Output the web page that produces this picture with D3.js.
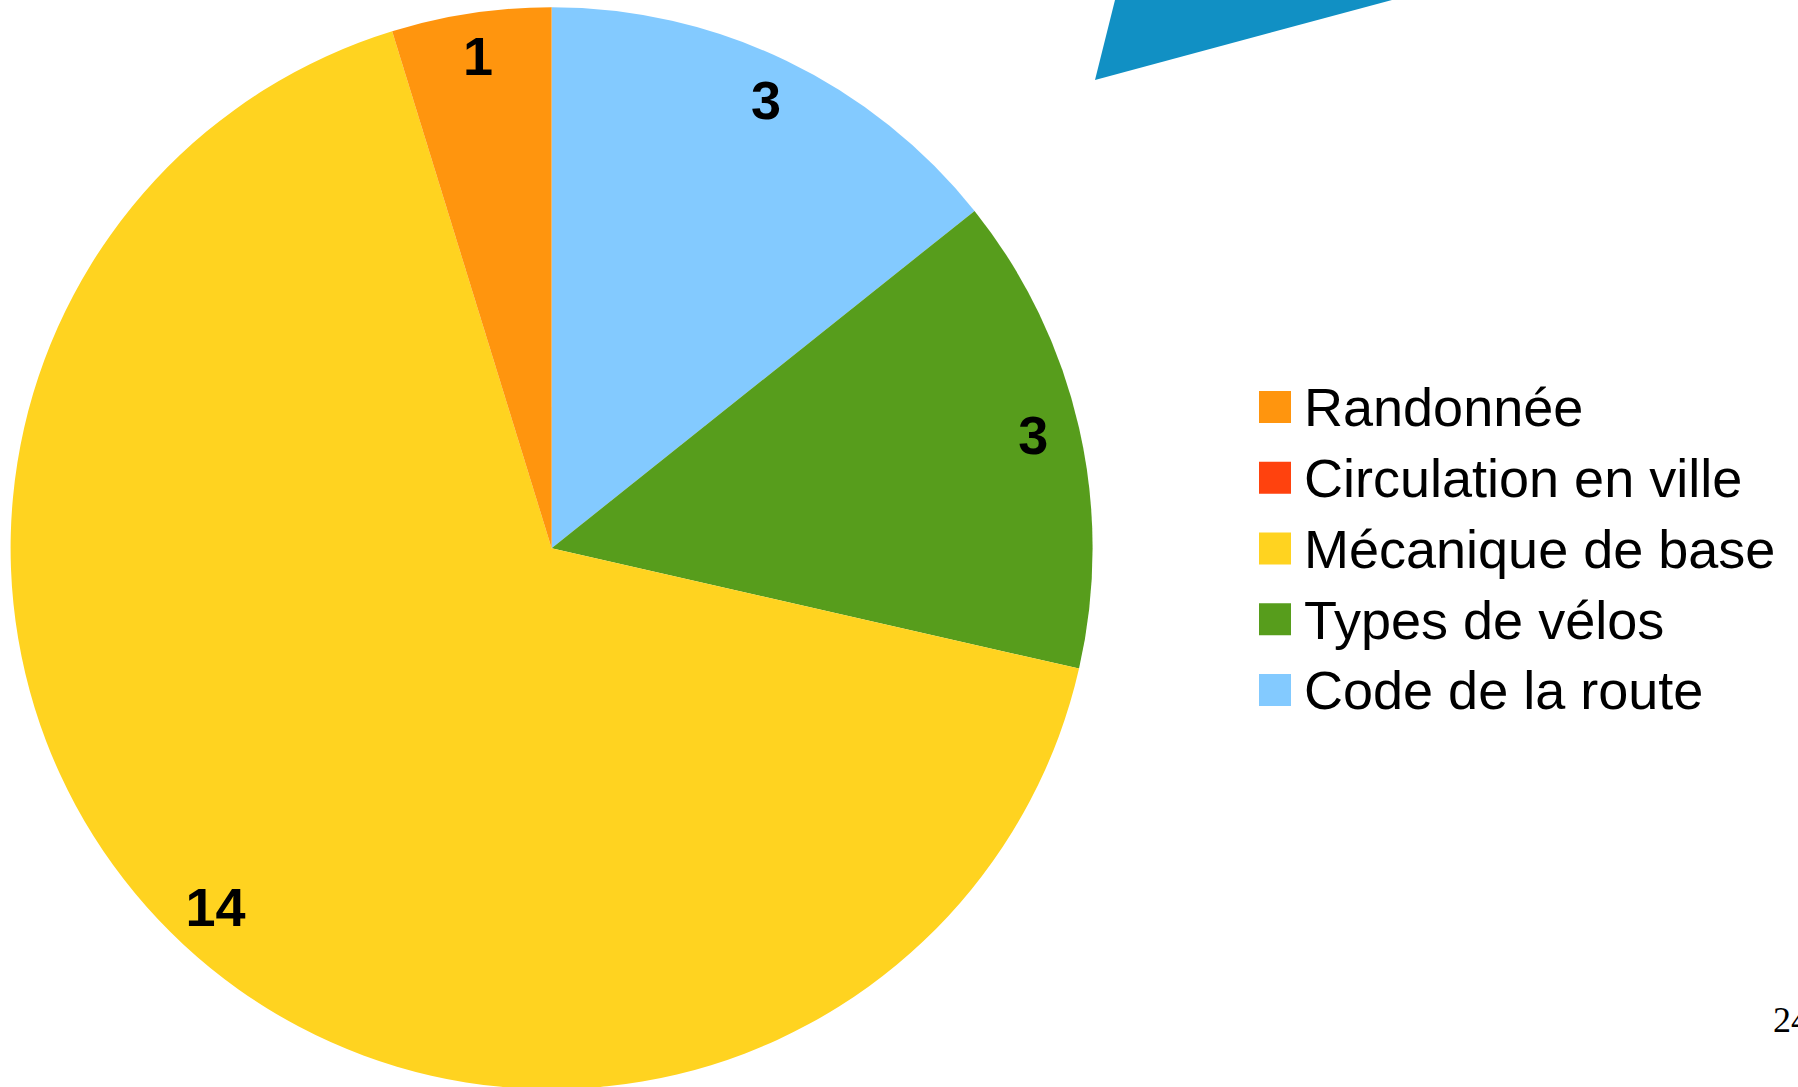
<!DOCTYPE html>
<html>
<head>
<meta charset="utf-8">
<script src="https://cdn.jsdelivr.net/npm/d3@7"></script>
<style>
  html, body { margin: 0; padding: 0; background: #ffffff; overflow: hidden; }
  svg { display: block; }
</style>
</head>
<body>
<svg id="chart" width="1798" height="1087"></svg>
<script>
// Data (pie order, clockwise from top)
const categories = ["Code de la route", "Types de vélos", "Mécanique de base", "Circulation en ville", "Randonnée"];
const values = [3, 3, 14, 0, 1];
const colors = ["#83caff", "#579d1c", "#ffd320", "#ff420e", "#ff950e"];
// Legend order (as shown)
const legendOrder = ["Randonnée", "Circulation en ville", "Mécanique de base", "Types de vélos", "Code de la route"];
const pageNumber = "24";

const svg = d3.select("#chart");

// Decorative blue shape at top
svg.append("path")
  .attr("d", "M1115,0 L1392,0 L1095,80 Z")
  .attr("fill", "#1190c4");

const cx = 551.6, cy = 548.2, R = 541;
const data = categories.map((c, i) => ({ name: c, value: values[i], color: colors[i] }));

const pie = d3.pie().sort(null).value(d => d.value);
const arc = d3.arc().innerRadius(0).outerRadius(R);
const labelArc = d3.arc().innerRadius(494).outerRadius(494);

const g = svg.append("g").attr("transform", `translate(${cx},${cy})`);
const arcs = pie(data);

g.selectAll("path.slice")
  .data(arcs)
  .join("path")
  .attr("class", "slice")
  .attr("d", arc)
  .attr("fill", d => d.data.color);

g.selectAll("text.lbl")
  .data(arcs.filter(d => d.data.value > 0))
  .join("text")
  .attr("class", "lbl")
  .attr("transform", d => `translate(${labelArc.centroid(d)})`)
  .attr("text-anchor", "middle")
  .attr("dy", "0.29em")
  .attr("font-family", "'Liberation Sans', Arial, sans-serif")
  .attr("font-weight", "bold")
  .attr("font-size", 54)
  .attr("fill", "#000")
  .text(d => d.data.value);

// Legend
const colorOf = d3.scaleOrdinal().domain(categories).range(colors);
const legY = d3.scalePoint().domain(legendOrder).range([407, 690]);
const leg = svg.append("g");
const items = leg.selectAll("g").data(legendOrder).join("g")
  .attr("transform", d => `translate(1259,${legY(d)})`);
items.append("rect")
  .attr("x", 0).attr("y", -16)
  .attr("width", 32).attr("height", 32)
  .attr("fill", d => colorOf(d));
items.append("text")
  .attr("x", 45).attr("y", 0)
  .attr("dy", "0.36em")
  .attr("font-family", "'Liberation Sans', Arial, sans-serif")
  .attr("font-size", 54)
  .attr("fill", "#000")
  .text(d => d);

// Page number (cut off at the right edge, as in the reference)
svg.append("text")
  .attr("x", 1773).attr("y", 1032)
  .attr("font-family", "'Liberation Serif', 'Times New Roman', serif")
  .attr("font-size", 36)
  .attr("fill", "#000")
  .text(pageNumber);
</script>
</body>
</html>
